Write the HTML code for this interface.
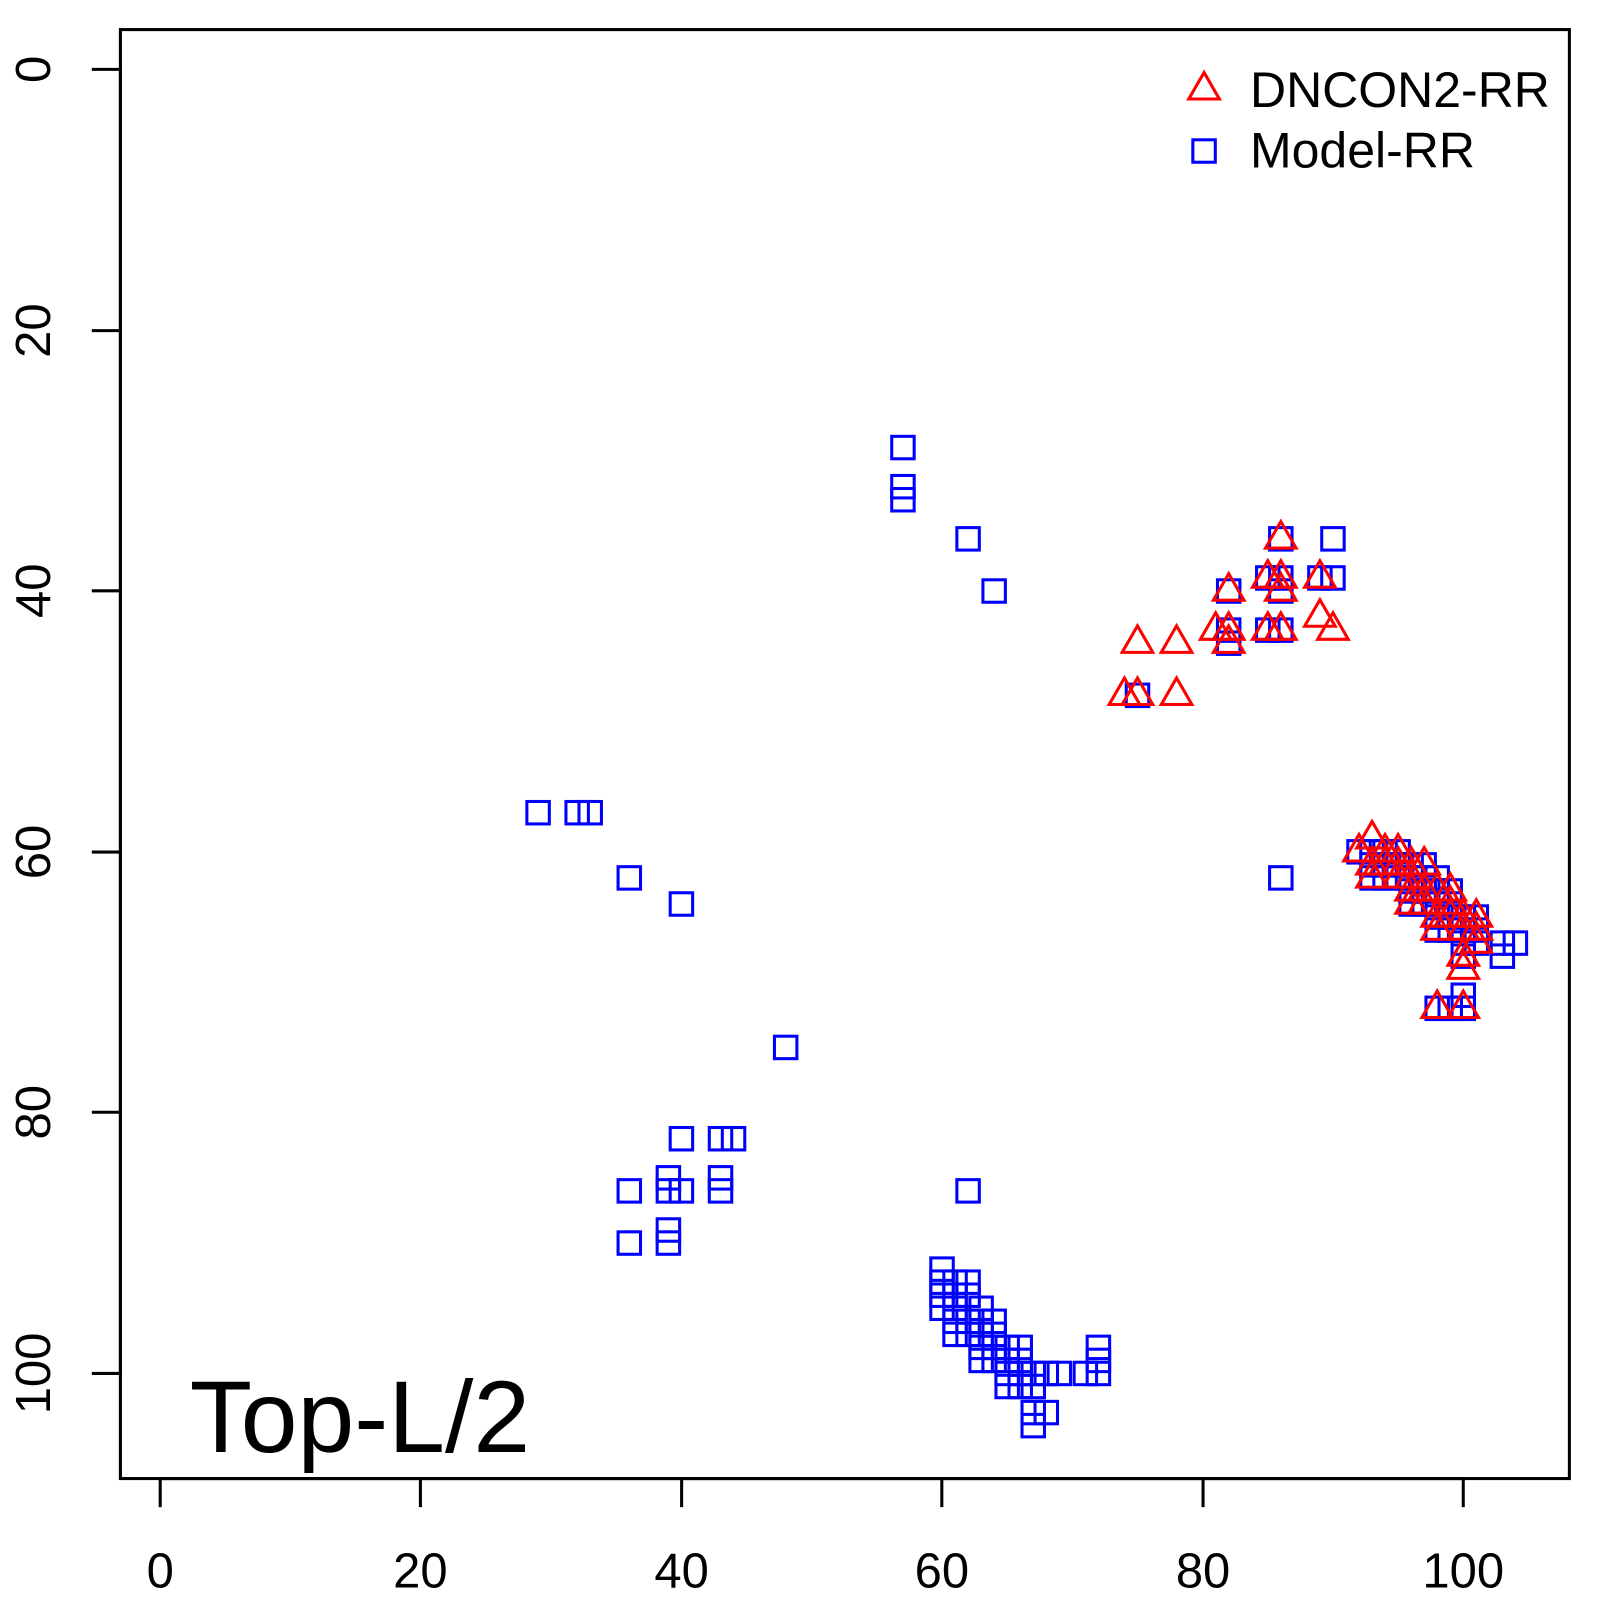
<!DOCTYPE html>
<html><head><style>body{margin:0;background:#fff}svg{display:block}text{font-family:"Liberation Sans",Arial,sans-serif}</style></head>
<body>
<svg id="s" width="1600" height="1600" xmlns="http://www.w3.org/2000/svg">
<g transform="scale(1.0204)">
<rect x="118" y="29" width="1420" height="1420" fill="none" stroke="#000" stroke-width="3"/>
<g stroke="#000" stroke-width="3">
<line x1="157" y1="1449" x2="1434" y2="1449"/>
<line x1="157" y1="1449" x2="157" y2="1477"/><line x1="412" y1="1449" x2="412" y2="1477"/><line x1="668" y1="1449" x2="668" y2="1477"/><line x1="923" y1="1449" x2="923" y2="1477"/><line x1="1179" y1="1449" x2="1179" y2="1477"/><line x1="1434" y1="1449" x2="1434" y2="1477"/>
<line x1="118" y1="68" x2="118" y2="1346"/>
<line x1="90" y1="68" x2="118" y2="68"/><line x1="90" y1="324" x2="118" y2="324"/><line x1="90" y1="579" x2="118" y2="579"/><line x1="90" y1="835" x2="118" y2="835"/><line x1="90" y1="1090" x2="118" y2="1090"/><line x1="90" y1="1346" x2="118" y2="1346"/>
</g>
<g font-size="48" text-anchor="middle">
<text x="157" y="1556">0</text><text x="412" y="1556">20</text><text x="668" y="1556">40</text><text x="923" y="1556">60</text><text x="1179" y="1556">80</text><text x="1434" y="1556">100</text>
<text transform="translate(49,68) rotate(-90)">0</text><text transform="translate(49,324) rotate(-90)">20</text><text transform="translate(49,579) rotate(-90)">40</text><text transform="translate(49,835) rotate(-90)">60</text><text transform="translate(49,1090) rotate(-90)">80</text><text transform="translate(49,1346) rotate(-90)">100</text>
</g>
<text x="186" y="1423" font-size="100">Top-L/2</text>
<polygon points="1180,71 1195,97 1165,97" fill="none" stroke="#f00" stroke-width="3"/>
<rect x="1169" y="137" width="22" height="22" fill="none" stroke="#00f" stroke-width="3"/>
<text x="1225" y="105" font-size="49">DNCON2-RR</text>
<text x="1225" y="164" font-size="49">Model-RR</text>
<g id="pts"></g>
</g>
</svg>
<script>
var B=[[57,29],[57,32],[57,33],[62,36],[64,40],[29,57],[32,57],[33,57],[36,62],[40,64],[48,75],[40,82],[43,82],[44,82],[36,86],[39,85],[39,86],[40,86],[43,85],[43,86],[36,90],[39,89],[39,90],[62,86],
[60,92],[60,93],[60,94],[60,95],[61,93],[61,94],[61,95],[61,96],[61,97],[62,93],[62,94],[62,96],[62,97],[63,95],[63,96],[63,97],[63,98],[63,99],[64,96],[64,97],[64,98],[64,99],[65,98],[65,99],[65,100],[65,101],[66,98],[66,99],[66,100],[66,101],[67,100],[67,101],[67,103],[67,104],[68,100],[68,103],[69,100],[71,100],[72,98],[72,99],[72,100],
[75,48],[82,40],[82,43],[82,44],[85,39],[85,43],[86,36],[86,39],[86,40],[86,43],[89,39],[90,36],[90,39],[86,62],
[92,60],[93,60],[93,61],[93,62],[94,60],[94,61],[94,62],[95,60],[95,61],[95,62],[96,61],[96,62],[96,63],[96,64],[97,61],[97,62],[97,63],[97,64],[98,62],[98,63],[98,64],[98,65],[98,66],[99,63],[99,64],[99,65],[99,66],[100,65],[100,66],[100,67],[100,68],[100,71],[100,72],[101,65],[101,66],[101,67],[103,67],[103,68],[104,67],[98,72],[99,72]];
var R=[[75,44],[78,44],[74,48],[75,48],[78,48],[81,43],[82,40],[82,43],[82,44],[85,39],[85,43],[86,36],[86,39],[86,40],[86,43],[89,39],[89,42],[90,43],
[92,60],[93,59],[93,61],[93,62],[94,60],[94,61],[95,60],[95,61],[95,62],[96,61],[96,62],[96,63],[96,64],[97,61],[97,63],[97,64],[98,63],[98,65],[98,66],[99,63],[99,64],[99,65],[100,65],[100,66],[100,68],[100,69],[101,65],[101,66],[101,67],[98,72],[100,72]];
var h='';
B.forEach(function(p){var x=157+12.77*p[0],y=68+12.78*p[1];h+='<rect x="'+(x-11)+'" y="'+(y-11)+'" width="22" height="22" fill="none" stroke="#00f" stroke-width="3"/>';});
R.forEach(function(p){var x=157+12.77*p[0],y=68+12.78*p[1];h+='<polygon points="'+x+','+(y-17)+' '+(x+15)+','+(y+9)+' '+(x-15)+','+(y+9)+'" fill="none" stroke="#f00" stroke-width="3"/>';});
document.getElementById('pts').innerHTML=h;
</script>
</body></html>
